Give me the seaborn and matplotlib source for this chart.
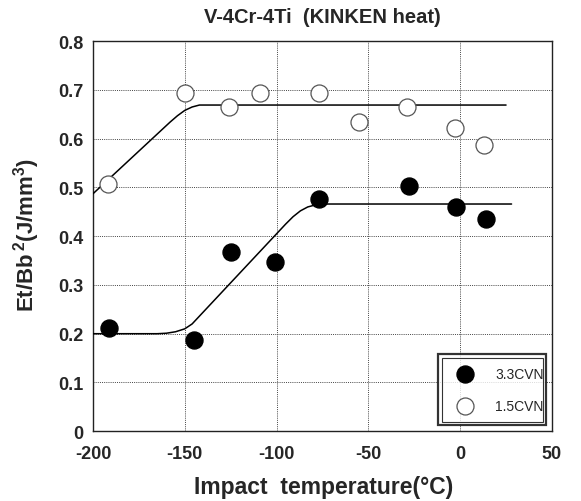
import matplotlib
matplotlib.use("Agg")
import matplotlib.pyplot as plt
import seaborn as sns
import pandas as pd
from matplotlib.patches import Rectangle

# data
temp_33 = [-191, -145, -125, -101, -77, -28, -2, 14]
val_33 = [0.212, 0.188, 0.367, 0.348, 0.477, 0.502, 0.460, 0.435]
temp_15 = [-192, -150, -126, -109, -77, -55, -29, -3, 13]
val_15 = [0.508, 0.694, 0.666, 0.694, 0.694, 0.634, 0.666, 0.621, 0.588]

# fitted curves (as drawn in the reference)
fit33_x = [-200, -165, -160, -155, -150, -146, -95, -91, -87, -83, -79, -75, 28]
fit33_y = [0.200, 0.200, 0.201, 0.204, 0.210, 0.220, 0.425, 0.440, 0.452, 0.460, 0.464, 0.466, 0.466]
fit15_x = [-200, -162, -158, -154, -150, -146, -142, 25]
fit15_y = [0.487, 0.620, 0.634, 0.647, 0.658, 0.665, 0.669, 0.669]

sns.set_style("white")
plt.rcParams['font.family'] = ['Liberation Sans', 'DejaVu Sans']
plt.rcParams['axes.unicode_minus'] = False
plt.rcParams['mathtext.fontset'] = 'custom'
plt.rcParams['mathtext.bf'] = 'Liberation Sans:bold'
plt.rcParams['mathtext.rm'] = 'Liberation Sans:bold'
plt.rcParams['mathtext.it'] = 'Liberation Sans:bold'

fig = plt.figure(figsize=(5.81, 5.02), dpi=100)
ax = fig.add_axes([0.160, 0.139, 0.790, 0.777])

df33 = pd.DataFrame({"t": temp_33, "v": val_33})
df15 = pd.DataFrame({"t": temp_15, "v": val_15})

sns.lineplot(x=fit15_x, y=fit15_y, ax=ax, color="black", lw=1.1, sort=False, zorder=3)
sns.lineplot(x=fit33_x, y=fit33_y, ax=ax, color="black", lw=1.1, sort=False, zorder=3)
sns.scatterplot(data=df33, x="t", y="v", ax=ax, s=150, color="black", edgecolor="black",
                marker="o", label="3.3CVN", zorder=4)
sns.scatterplot(data=df15, x="t", y="v", ax=ax, s=150, facecolor="white", edgecolor="#555555",
                linewidth=0.9, marker="o", label="1.5CVN", zorder=4)

ax.set_xlim(-200, 50)
ax.set_ylim(0, 0.8)
ax.set_xticks([-200, -150, -100, -50, 0, 50])
ax.set_yticks([0, 0.1, 0.2, 0.3, 0.4, 0.5, 0.6, 0.7, 0.8])
ax.set_yticklabels(["0", "0.1", "0.2", "0.3", "0.4", "0.5", "0.6", "0.7", "0.8"])
ax.grid(True, color="#444444", linestyle=(0, (1, 1.2)), linewidth=0.7)
for s in ax.spines.values():
    s.set_color("#222222")
    s.set_linewidth(1.0)
ax.tick_params(axis="x", length=0, labelsize=13, pad=10)
ax.tick_params(axis="y", length=0, labelsize=13, pad=7)
for lab in ax.get_xticklabels() + ax.get_yticklabels():
    lab.set_fontweight("bold")

ax.set_xlabel("Impact  temperature(°C)", fontsize=16.5, fontweight="bold")
ax.xaxis.set_label_coords(0.503, -0.112)
ax.set_ylabel(r"$\mathbf{Et/Bb}\,{}^{\mathbf{2}}\mathbf{(J/mm}^{\mathbf{3}}\mathbf{)}$", fontsize=16)
ax.yaxis.set_label_coords(-0.11, 0.505)
ax.set_title("V-4Cr-4Ti  (KINKEN heat)", fontsize=14.5, fontweight="bold", pad=14)

leg = ax.legend(loc="lower left", bbox_to_anchor=(0.752, 0.015, 0.236, 0.175), mode="expand",
                frameon=True, fancybox=False, fontsize=10, handletextpad=1.2,
                borderpad=0.9, labelspacing=1.3, markerscale=1.0, borderaxespad=0)
leg.get_frame().set_edgecolor("black")
leg.get_frame().set_linewidth(1.6)
leg.set_zorder(6)
fig.canvas.draw()
bb = leg.get_window_extent().transformed(ax.transAxes.inverted())
inner = Rectangle((bb.x0 + 0.008, bb.y0 + 0.009), bb.width - 0.016, bb.height - 0.018,
                  transform=ax.transAxes, fill=False, edgecolor="#333333", lw=0.8, zorder=7)
ax.add_patch(inner)

fig.savefig("out.png", dpi=100)
